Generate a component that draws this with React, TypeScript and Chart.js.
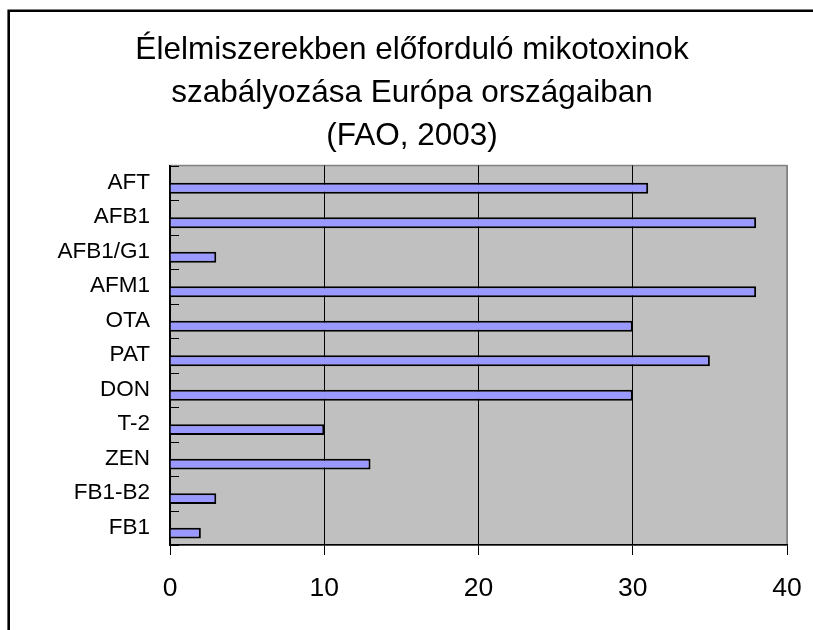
import React, { useEffect, useRef } from "react";
import { Chart, registerables } from "chart.js";

Chart.register(...registerables);

const categories = ["AFT", "AFB1", "AFB1/G1", "AFM1", "OTA", "PAT", "DON", "T-2", "ZEN", "FB1-B2", "FB1"];
const counts = [31, 38, 3, 38, 30, 35, 30, 10, 13, 3, 2];
const emptySeries = categories.map(() => null);
const xTicks = [0, 10, 20, 30, 40];
const titleLines = ["Élelmiszerekben előforduló mikotoxinok", "szabályozása Európa országaiban", "(FAO, 2003)"];

const FONT = "'Liberation Sans', Arial, sans-serif";

const decorPlugin = {
  id: "decor",
  beforeDraw(chart: any) {
    const { ctx, chartArea } = chart;
    const { left, top, right, bottom } = chartArea;
    ctx.save();
    ctx.fillStyle = "#ffffff";
    ctx.fillRect(0, 0, chart.width, chart.height);
    ctx.fillStyle = "#C0C0C0";
    ctx.fillRect(left, top, right - left, bottom - top);
    ctx.strokeStyle = "#808080";
    ctx.lineWidth = 1.5;
    ctx.strokeRect(left, top, right - left, bottom - top);
    ctx.strokeStyle = "#000000";
    ctx.lineWidth = 2.6;
    ctx.beginPath();
    ctx.moveTo(8.7, chart.height + 5);
    ctx.lineTo(8.7, 10.7);
    ctx.lineTo(chart.width + 5, 10.7);
    ctx.stroke();
    ctx.restore();
  },
  afterDatasetsDraw(chart: any) {
    const { ctx, chartArea } = chart;
    const y = chart.scales.y;
    ctx.save();
    ctx.strokeStyle = "#000000";
    ctx.lineWidth = 1;
    for (let i = 0; i <= categories.length; i++) {
      const py = Math.round(y.getPixelForValue(i - 0.5)) + 0.5;
      ctx.beginPath();
      ctx.moveTo(chartArea.left, py);
      ctx.lineTo(chartArea.left + 9, py);
      ctx.stroke();
    }
    ctx.restore();
  },
};

export default function App() {
  const ref = useRef<HTMLCanvasElement | null>(null);
  useEffect(() => {
    if (!ref.current) return;
    const chart = new Chart(ref.current, {
      type: "bar",
      data: {
        labels: categories,
        datasets: [
          {
            label: "",
            data: emptySeries as any,
            backgroundColor: "rgba(0,0,0,0)",
            borderWidth: 0,
          },
          {
            label: "Mikotoxin",
            data: counts,
            backgroundColor: "#9999FF",
            borderColor: "#000000",
            borderWidth: 2,
            borderSkipped: "start",
          },
        ],
      },
      plugins: [decorPlugin],
      options: {
        indexAxis: "y",
        animation: false,
        responsive: false,
        maintainAspectRatio: false,
        layout: { padding: 0 },
        datasets: {
          bar: { categoryPercentage: 0.63, barPercentage: 1 },
        },
        plugins: {
          legend: { display: false },
          tooltip: { enabled: false },
          title: {
            display: true,
            text: titleLines,
            color: "#000000",
            font: { family: FONT, size: 31.5, weight: "normal", lineHeight: 1.36 },
            padding: { top: 29, bottom: 8 },
          },
        },
        scales: {
          x: {
            type: "linear",
            min: 0,
            max: 40,
            afterBuildTicks(scale: any) {
              scale.ticks = xTicks.map((v) => ({ value: v }));
            },
            afterFit(scale: any) {
              scale.height = 85;
            },
            grid: {
              color: (c: any) => (c.tick && c.tick.value === 40 ? "#808080" : "#000000"),
              lineWidth: 1,
              tickColor: "#000000",
              tickLength: 10,
              drawTicks: true,
            },
            border: { display: true, color: "#000000", width: 1.5 },
            ticks: {
              color: "#000000",
              font: { family: FONT, size: 26.5 },
              padding: 18,
              maxRotation: 0,
            },
          },
          y: {
            type: "category",
            afterFit(scale: any) {
              scale.width = 170;
            },
            grid: { display: false, drawTicks: false },
            border: { display: true, color: "#000000", width: 1.5 },
            ticks: {
              color: "#000000",
              font: { family: FONT, size: 22.5 },
              padding: 20,
              autoSkip: false,
            },
          },
          y2: {
            type: "linear",
            position: "right",
            display: true,
            afterFit(scale: any) {
              scale.width = 37;
            },
            grid: { display: false, drawTicks: false },
            border: { display: false },
            ticks: { display: false },
          },
        },
      },
    });
    return () => chart.destroy();
  }, []);
  return (
    <div style={{ position: "absolute", left: 0, top: 0, width: 813, height: 630, overflow: "hidden", background: "#fff" }}>
      <canvas ref={ref} width={824} height={630} style={{ display: "block", width: 824, height: 630 }} />
    </div>
  );
}
